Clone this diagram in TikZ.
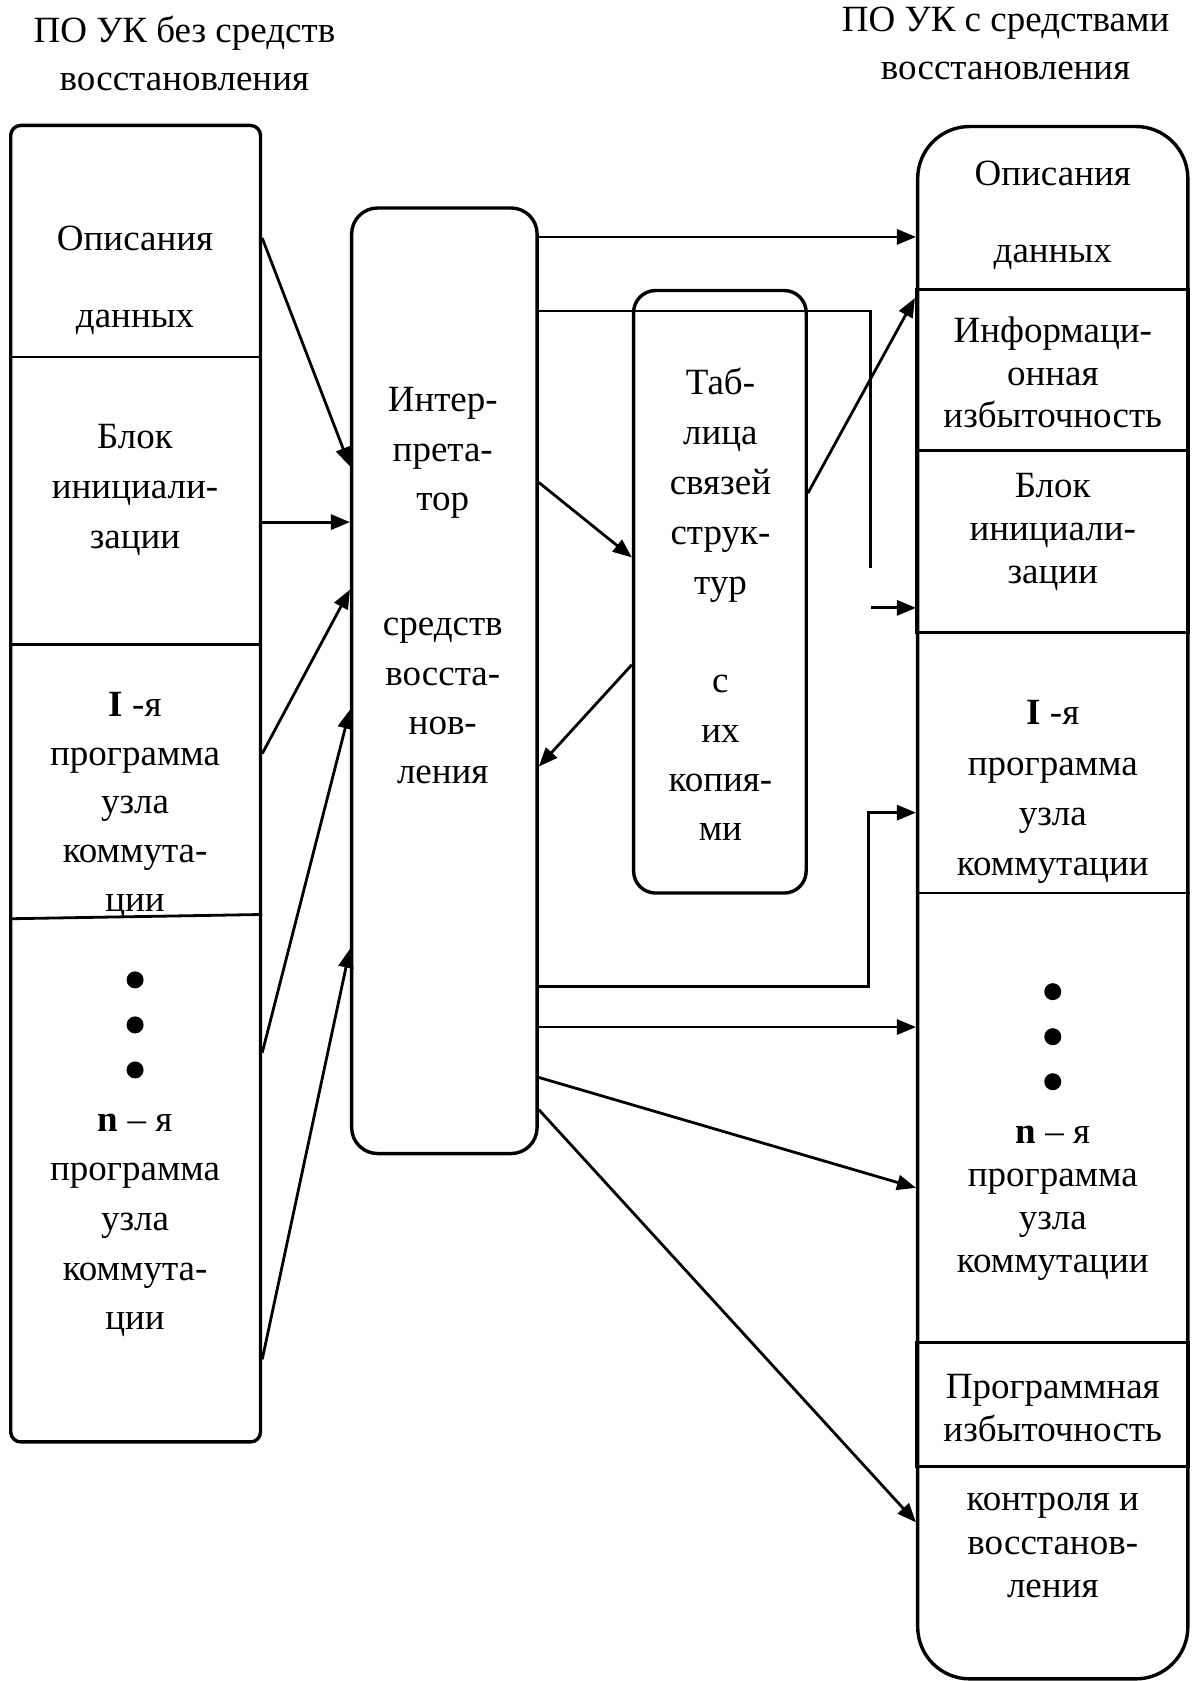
\documentclass[tikz,border=0pt]{standalone}
\usepackage{fontspec}
\setmainfont{Liberation Serif}
\usetikzlibrary{arrows.meta,fit}
\newcommand{\stackline}[5]{\foreach \t [count=\i] in {#5} {\node[lbl] (#1\i) at (#2,{#3+(\i-1)*#4}) {\t};}}
\begin{document}
\begin{tikzpicture}[x=1.072pt,y=-1.072pt,
  frame/.style={draw, line width=3.4pt, inner sep=0pt},
  lbl/.style={font=\fontsize{37}{44}\selectfont, text height=25pt, text depth=8pt, inner sep=0pt, yshift=-3.5pt},
  link/.style={line width=2.8pt},
  thinlink/.style={line width=2.2pt},
  arr/.style={line width=2.8pt, -{Triangle[length=19pt,width=15pt]}},
  dotnode/.style={circle, fill, inner sep=0pt, minimum size=17pt}]
\useasboundingbox (0,0) rectangle (1111,1568);

% boxes
\node[frame, rounded corners=10pt, fit={(10,117) (243,1345)}] (L) {};
\node[frame, rounded corners=26pt, fit={(328,194) (501,1076)}] (M) {};
\node[frame, rounded corners=22pt, fit={(591,271) (752,833)}] (T) {};
\node[frame, rounded corners=52pt, fit={(856,118) (1108,1566)}] (R) {};
\node[frame, fit={(855,270) (1108,420)}] (RI) {};
\node[frame, fit={(855,420) (1108,590)}] (RB) {};
\node[frame, fit={(855,1252) (1108,1368)}] (RP) {};

% dividers
\draw[link] (L.west |- 0,333) -- (L.east |- 0,333);
\draw[link] (L.west |- 0,601) -- (L.east |- 0,601);
\draw[link] (L.west |- 0,857) -- (L.east |- 0,853);
\draw[link] (R.west |- 0,833) -- (R.east |- 0,833);

% titles
\stackline{tl}{172}{28}{45}{ПО УК без средств,восстановления}
\stackline{tr}{938}{18}{45}{ПО УК с средствами,восстановления}

% left texts
\stackline{ld}{126}{222}{72}{Описания,данных}
\stackline{lb}{126}{407}{46.5}{Блок,инициали-,зации}
\stackline{lp}{126}{657}{45.5}{{\textbf{I} -я},программа,узла,коммута-,ции}
\node[dotnode] (ldot1) at (126,914) {};
\node[dotnode] (ldot2) at (126,956) {};
\node[dotnode] (ldot3) at (126,998) {};
\stackline{ln}{126}{1044}{46.3}{{\textbf{n} – я},программа,узла,коммута-,ции}

% middle texts
\stackline{mi}{413}{373}{46}{Интер-,прета-,тор}
\stackline{ms}{413}{582}{46}{средств,восста-,нов-,ления}
\stackline{ta}{672}{357}{46.5}{Таб-,лица,связей,струк-,тур}
\stackline{tc}{672}{635}{46}{с,их,копия-,ми}

% right texts
\stackline{rd}{982}{162}{72}{Описания,данных}
\stackline{ri}{982}{308}{40}{Информаци-,онная,избыточность}
\stackline{rb}{982}{453}{40}{Блок,инициали-,зации}
\stackline{rp}{982}{665}{46.7}{{\textbf{I} -я},программа,узла,коммутации}
\node[dotnode] (rdot1) at (982,925) {};
\node[dotnode] (rdot2) at (982,967) {};
\node[dotnode] (rdot3) at (982,1009) {};
\stackline{rn}{982}{1055}{40.3}{{\textbf{n} – я},программа,узла,коммутации}
\stackline{rr}{982}{1293}{40}{Программная,избыточность}
\stackline{rk}{982}{1398}{40.5}{контроля и,восстанов-,ления}

% left -> interpreter
\draw[arr] (L.east |- 0,222) -- (M.west |- 0,435);
\draw[arr] (L.east |- 0,487) -- (M.west |- 0,487);
\draw[arr] (L.east |- 0,703) -- (M.west |- 0,550);
\draw[arr] (L.east |- 0,982) -- (M.west |- 0,662);
\draw[arr] (L.east |- 0,1268) -- (M.west |- 0,885);

% interpreter -> right
\draw[arr] (M.east |- 0,221) -- (R.west |- 0,221);
\coordinate (bturn) at (812,530);
\draw[thinlink] (M.east |- 0,290) -| (bturn);
\coordinate (bstart) at (812,567);
\draw[arr] (bstart) -- (R.west |- bstart);
\draw[arr] (M.east |- 0,450) -- (T.west |- 0,520);
\draw[arr] (T.west |- 0,620) -- (M.east |- 0,715);
\draw[arr] (T.east |- 0,460) -- (RI.west |- 0,278);
\coordinate (fturn) at (810,758);
\draw[arr] (M.east |- 0,920) -| (fturn) -- (R.west |- fturn);
\draw[arr] (M.east |- 0,958) -- (R.west |- 0,958);
\draw[arr] (M.east |- 0,1005) -- (R.west |- 0,1108);
\draw[arr] (M.east |- 0,1035) -- (R.west |- 0,1420);
\end{tikzpicture}
\end{document}
